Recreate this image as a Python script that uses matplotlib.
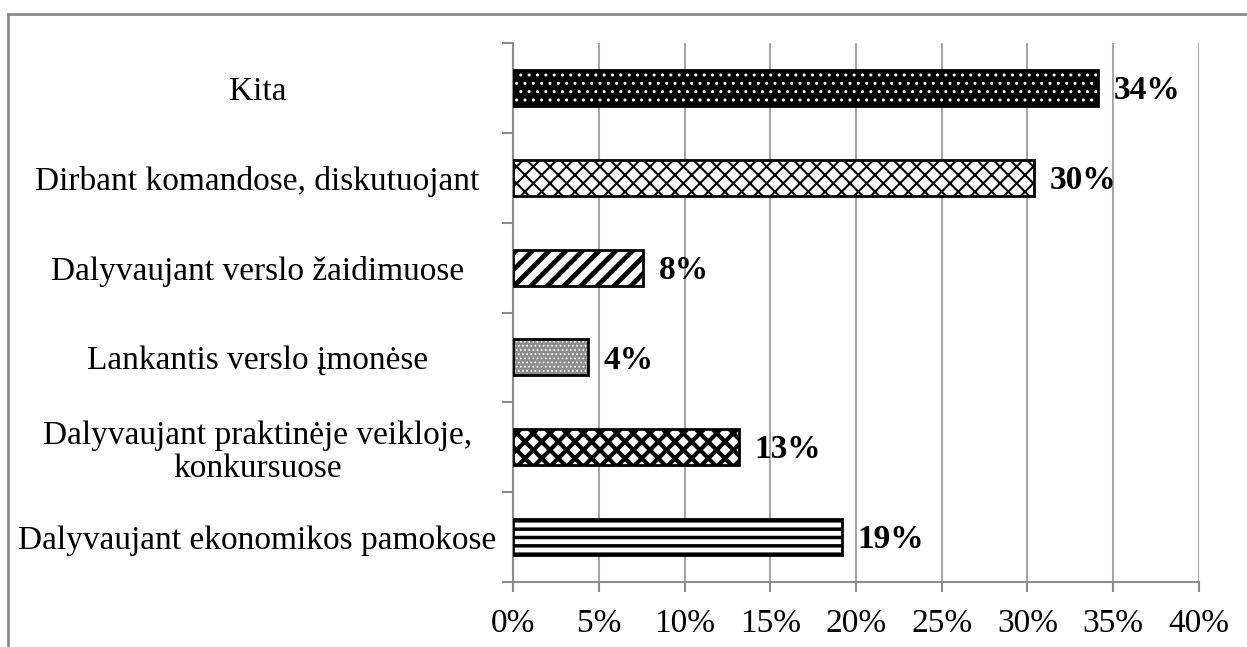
import matplotlib.pyplot as plt
from matplotlib.lines import Line2D

plt.rcParams['font.family'] = ['Liberation Serif', 'DejaVu Serif']

# duomenys (iš viršaus į apačią)
categories = [
    "Kita",
    "Dirbant komandose, diskutuojant",
    "Dalyvaujant verslo žaidimuose",
    "Lankantis verslo įmonėse",
    "Dalyvaujant praktinėje veikloje,\nkonkursuose",
    "Dalyvaujant ekonomikos pamokose",
]
values = [34.1, 30.4, 7.6, 4.4, 13.2, 19.2]
xticks = [0, 5, 10, 15, 20, 25, 30, 35, 40]

# raštai kiekvienam stulpeliui: (fono spalva, rašto spalva, raštas, rašto storis)
styles = [
    ("black", "white", "..", 1.0),
    ("white", "black", "//\\\\", 1.5),
    ("white", "black", "//", 3.5),
    ("#8c8c8c", "white", "....", 0.8),
    ("white", "black", "xx", 3.0),
    ("white", "black", "--", 2.5),
]

GRAY = "#8c8c8c"

fig = plt.figure(figsize=(12.47, 6.47), dpi=100)
ax = fig.add_axes([0.4114, 0.1005, 0.5501, 0.833])

n = len(categories)
ypos = list(range(n))
for i, (v, st) in enumerate(zip(values, styles)):
    face, hcol, hatch, hlw = st
    b = ax.barh(i, v, height=0.40, color=face, edgecolor=hcol, hatch=hatch,
                linewidth=0, zorder=3)
    for p in b:
        if hasattr(p, "set_hatch_linewidth"):
            p.set_hatch_linewidth(hlw)
    ax.barh(i, v, height=0.40, fill=False, edgecolor="black", linewidth=2, zorder=4)
    ax.text(v + 0.9, i + 0.03, f"{v:.0f}%", va="center", ha="left",
            fontsize=24, fontweight="bold", zorder=5)

ax.set_ylim(n - 0.5, -0.5)
ax.set_xlim(0, 40)
ax.set_xticks(xticks)
ax.set_xticklabels([f"{t}%" for t in xticks], fontsize=24)
ax.set_yticks(ypos)
ax.set_yticklabels(categories, fontsize=24, ha="center", multialignment="center",
                   linespacing=1.1)
ax.set_yticks([k - 0.5 for k in range(n + 1)], minor=True)
ax.tick_params(axis="y", which="major", length=0, pad=184)
ax.tick_params(axis="y", which="minor", length=8, width=1.5, color=GRAY)
ax.tick_params(axis="x", length=7, width=1.5, color=GRAY, pad=12)

ax.grid(axis="x", color="#a6a6a6", linewidth=1.5, zorder=0)
for s in ["top", "right"]:
    ax.spines[s].set_visible(False)
for s in ["left", "bottom"]:
    ax.spines[s].set_color(GRAY)
    ax.spines[s].set_linewidth(1.5)

# rėmelis aplink diagramą
fig.add_artist(Line2D([8 / 1247, 1.0], [1 - 14 / 647, 1 - 14 / 647],
                      transform=fig.transFigure, color=GRAY, linewidth=2))
fig.add_artist(Line2D([8 / 1247, 8 / 1247], [0.0, 1 - 14 / 647],
                      transform=fig.transFigure, color=GRAY, linewidth=2))

plt.savefig("out.png", dpi=100)
